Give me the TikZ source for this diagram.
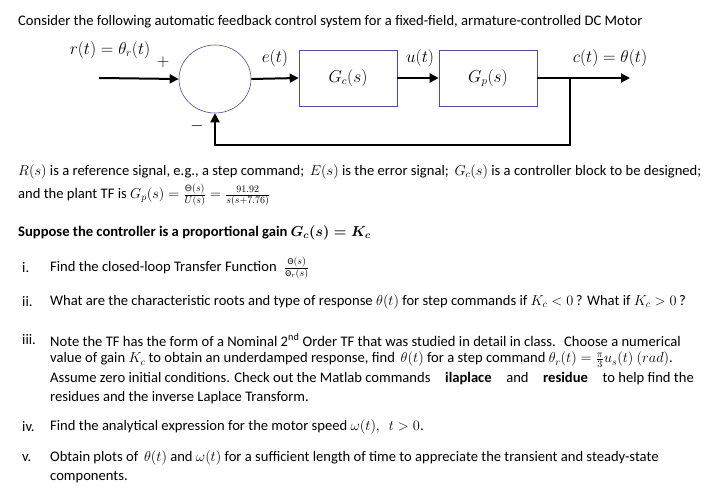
\documentclass[tikz,border=0pt]{standalone}
\usepackage{amsmath}
\usepackage{fontspec}
\setmainfont{Carlito}
\usetikzlibrary{arrows.meta,shapes.geometric}
\begin{document}
\begin{tikzpicture}[x=1pt,y=-1pt,
  txt/.style={anchor=west,inner sep=0pt,font=\fontsize{14.6}{17}\selectfont},
  lab/.style={inner sep=0pt,font=\fontsize{16}{18}\selectfont},
  blk/.style={draw=blue!50!black!70,line width=0.6pt,minimum width=98pt,minimum height=56pt,inner sep=0pt,font=\fontsize{16}{18}\selectfont},
  sig/.style={line width=2pt,-{Stealth[length=9pt,width=9pt,inset=0pt]}}]
\useasboundingbox (0,0) rectangle (724,492);
\fill[white] (0,0) rectangle (724,492);
\node[txt] (t0) at (18,22) {Consider the following automatic feedback control system for a fixed-field, armature-controlled DC Motor};
% diagram
\coordinate (in) at (99,78);
\node[draw=blue!50!black!70,line width=0.6pt,ellipse,minimum width=72pt,minimum height=68pt,inner sep=0pt] (sum) at (215,79) {};
\node[blk] (gc) at (348,78) {$G_c(s)$};
\node[blk] (gp) at (488,78) {$G_p(s)$};
\coordinate (br) at (570,78);
\coordinate (out) at (630,78);
\coordinate (fb1) at (570,145);
\coordinate (fb2) at (215,145);
\draw[sig] (in) -- (sum.west);
\draw[sig] (sum.east) -- (gc.west);
\draw[sig] (gc.east) -- (gp.west);
\draw[sig] (gp.east) -- (out);
\draw[sig] (br) -- (fb1) -- (fb2) -- (sum.south);
\node[lab] (lr) at (110,50) {$r(t)=\theta_r(t)$};
\node[lab] (lp) at (163,62) {$+$};
\node[lab] (lm) at (197,126) {$-$};
\node[lab] (le) at (275,58) {$e(t)$};
\node[lab] (lu) at (420,58) {$u(t)$};
\node[lab] (lc) at (610,58) {$c(t)=\theta(t)$};
% text
\node[txt] (t1) at (18,172) {$R(s)$ is a reference signal, e.g., a step command;\, $E(s)$ is the error signal;\, $G_c(s)$ is a controller block to be designed;};
\node[txt] (t2) at (18,195) {and the plant TF is $G_p(s)=\frac{\text{\textsf{\fontsize{9}{10}\selectfont Θ}}(s)}{U(s)}=\frac{91.92}{s(s+7.76)}$};
\node[txt] (t3) at (18,233) {\bfseries Suppose the controller is a proportional gain $\boldsymbol{G_c(s)=K_c}$};
\node[txt] (i1) at (22,268) {i.};
\node[txt] (i1t) at (50,268) {Find the closed-loop Transfer Function \;$\frac{\text{\fontsize{9}{10}\selectfont Θ}(s)}{\text{\fontsize{9}{10}\selectfont Θ}_r(s)}$};
\node[txt] (i2) at (22,302) {ii.};
\node[txt] (i2t) at (50,302) {What are the characteristic roots and type of response $\theta(t)$ for step commands if $K_c<0$\,? What if $K_c>0$\,?};
\node[txt] (i3) at (22,340) {iii.};
\node[txt] (i3a) at (50,340) {Note the TF has the form of a Nominal 2\textsuperscript{nd} Order TF that was studied in detail in class.\; Choose a numerical};
\node[txt] (i3b) at (50,360) {value of gain $K_c$ to obtain an underdamped response, find\, $\theta(t)$ for a step command $\theta_r(t)=\frac{\pi}{3}u_s(t)\ (rad)$.};
\node[txt] (i3c) at (50,379) {Assume zero initial conditions. Check out the Matlab commands\quad\textbf{ilaplace}\quad and\quad\textbf{residue}\quad to help find the};
\node[txt] (i3d) at (50,398) {residues and the inverse Laplace Transform.};
\node[txt] (i4) at (22,427) {iv.};
\node[txt] (i4t) at (50,427) {Find the analytical expression for the motor speed $\omega(t),\ \ t>0$.};
\node[txt] (i5) at (22,458) {v.};
\node[txt] (i5a) at (50,458) {Obtain plots of\, $\theta(t)$ and $\omega(t)$ for a sufficient length of time to appreciate the transient and steady-state};
\node[txt] (i5b) at (50,477) {components.};
\end{tikzpicture}
\end{document}
